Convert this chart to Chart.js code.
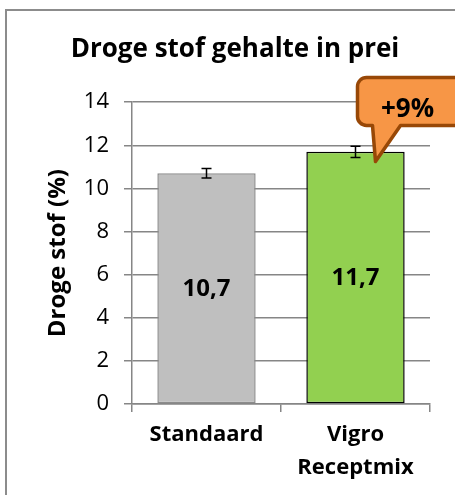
<!DOCTYPE html>
<html>
<head>
<meta charset="utf-8">
<script src="https://cdn.jsdelivr.net/npm/chart.js@4"></script>
<style>
  html, body { margin: 0; padding: 0; background: #fff; }
  #wrap { width: 455px; height: 495px; position: relative; }
</style>
</head>
<body>
<div id="wrap"><canvas id="c"></canvas></div>
<script>
// chart data
const categories = ['Standaard', ['Vigro', 'Receptmix']];
const values = [10.7, 11.7];
const errors = [0.22, 0.26];
const valueLabels = ['10,7', '11,7'];
const yTicks = [0, 2, 4, 6, 8, 10, 12, 14];
const calloutText = '+9%';

const FONT = '"Open Sans", Lato, sans-serif';
const GRID = '#868686';

// frame round the whole chart
const framePlugin = {
  id: 'frame',
  afterDraw(chart) {
    const ctx = chart.ctx;
    ctx.save();
    ctx.strokeStyle = '#8c8c8c';
    ctx.lineWidth = 2;
    ctx.strokeRect(6, 10, 460, 500);
    ctx.restore();
  }
};

// error bars on top of each bar
const errorBarPlugin = {
  id: 'errorBars',
  afterDatasetsDraw(chart) {
    const ctx = chart.ctx;
    const x = chart.scales.x, y = chart.scales.y;
    ctx.save();
    ctx.strokeStyle = '#000';
    ctx.lineWidth = 1.5;
    values.forEach((v, i) => {
      const cx = x.getPixelForValue(i);
      const top = y.getPixelForValue(v + errors[i]);
      const bot = y.getPixelForValue(v - errors[i]);
      ctx.beginPath();
      ctx.moveTo(cx, top); ctx.lineTo(cx, bot);
      ctx.moveTo(cx - 5, top); ctx.lineTo(cx + 5, top);
      ctx.moveTo(cx - 5, bot); ctx.lineTo(cx + 5, bot);
      ctx.stroke();
    });
    ctx.restore();
  }
};

// value labels in the middle of bars
const valueLabelPlugin = {
  id: 'valueLabels',
  afterDatasetsDraw(chart) {
    const ctx = chart.ctx;
    const y = chart.scales.y;
    const meta = chart.getDatasetMeta(0);
    ctx.save();
    ctx.fillStyle = '#000';
    ctx.font = 'bold 24px ' + FONT;
    ctx.textAlign = 'center';
    ctx.textBaseline = 'middle';
    meta.data.forEach((bar, i) => {
      ctx.fillText(valueLabels[i], bar.x, y.getPixelForValue(values[i] / 2));
    });
    ctx.restore();
  }
};

// "+9%" speech bubble pointing at the second bar
const calloutPlugin = {
  id: 'callout',
  afterDraw(chart) {
    const ctx = chart.ctx;
    const x = chart.scales.x, y = chart.scales.y;
    const tipX = x.getPixelForValue(1) + 20;
    const tipY = y.getPixelForValue(values[1] - 0.45);
    const left = tipX - 18, top = tipY - 84, right = left + 115, bottom = tipY - 36;
    const r = 9;
    ctx.save();
    ctx.beginPath();
    ctx.moveTo(left + r, top);
    ctx.lineTo(right - r, top);
    ctx.arcTo(right, top, right, top + r, r);
    ctx.lineTo(right, bottom - r);
    ctx.arcTo(right, bottom, right - r, bottom, r);
    ctx.lineTo(tipX + 25, bottom);
    ctx.lineTo(tipX, tipY);
    ctx.lineTo(tipX - 3, bottom);
    ctx.lineTo(left + r, bottom);
    ctx.arcTo(left, bottom, left, bottom - r, r);
    ctx.lineTo(left, top + r);
    ctx.arcTo(left, top, left + r, top, r);
    ctx.closePath();
    ctx.fillStyle = '#F79646';
    ctx.fill();
    ctx.lineJoin = 'round';
    ctx.lineWidth = 3.5;
    ctx.strokeStyle = '#984807';
    ctx.stroke();
    ctx.fillStyle = '#000';
    ctx.font = 'bold 26px ' + FONT;
    ctx.textAlign = 'center';
    ctx.textBaseline = 'middle';
    ctx.fillText(calloutText, tipX + 32, top + 32);
    ctx.restore();
  }
};

new Chart(document.getElementById('c'), {
  type: 'bar',
  data: {
    labels: categories,
    datasets: [{
      data: values,
      backgroundColor: ['#BFBFBF', '#92D050'],
      borderColor: ['#8c8c8c', '#000000'],
      borderWidth: 1.5,
      borderSkipped: false,
      barPercentage: 0.66,
      categoryPercentage: 1
    }]
  },
  options: {
    responsive: true,
    maintainAspectRatio: false,
    animation: false,
    layout: { padding: { left: 40, right: 25, top: 34, bottom: 14 } },
    plugins: {
      legend: { display: false },
      tooltip: { enabled: false },
      title: {
        display: true,
        text: 'Droge stof gehalte in prei',
        color: '#000',
        font: { family: FONT, size: 26, weight: 'bold' },
        padding: { top: 0, bottom: 37 }
      }
    },
    scales: {
      x: {
        grid: { drawOnChartArea: false, drawTicks: true, tickLength: 8, offset: true, color: GRID, lineWidth: 1.5 },
        border: { color: GRID, width: 1.5 },
        ticks: { color: '#000', font: { family: FONT, size: 22, weight: 'bold', lineHeight: 1.5 }, padding: 6 },
        afterFit(scale) { scale.height = 77; }
      },
      y: {
        min: 0,
        max: 14,
        afterBuildTicks(scale) { scale.ticks = yTicks.map(v => ({ value: v })); },
        grid: { color: GRID, lineWidth: 1.5, tickLength: 8 },
        border: { color: GRID, width: 1.5 },
        ticks: { color: '#000', font: { family: FONT, size: 22 }, padding: 15 },
        title: {
          display: true,
          text: 'Droge stof (%)',
          color: '#000',
          font: { family: FONT, size: 24, weight: 'bold' },
          padding: { top: 4, bottom: 4 }
        },
        afterFit(scale) { scale.width = 92; }
      }
    }
  },
  plugins: [framePlugin, errorBarPlugin, valueLabelPlugin, calloutPlugin]
});
</script>
</body>
</html>
